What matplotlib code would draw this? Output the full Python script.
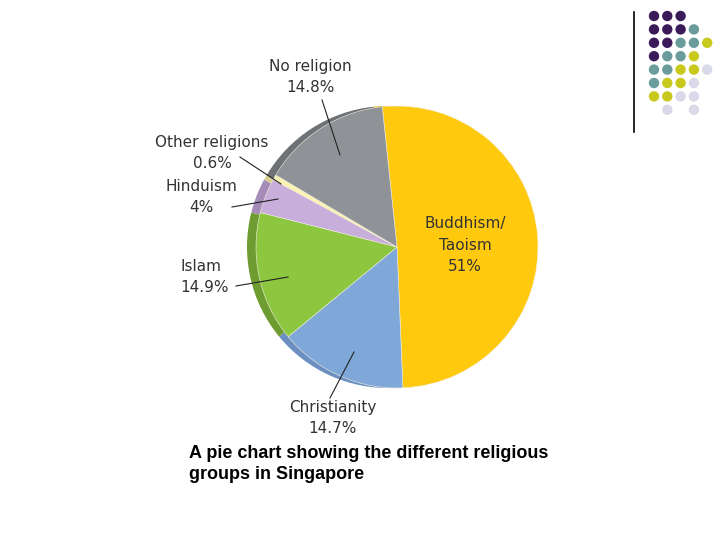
import numpy as np
import matplotlib.pyplot as plt
from matplotlib.patches import Circle

# DATA
religions = ["Buddhism/\nTaoism", "Christianity", "Islam", "Hinduism", "Other religions", "No religion"]
shares = [51, 14.7, 14.9, 4, 0.6, 14.8]
face_colors = ["#ffc90e", "#7fa8d9", "#8dc63f", "#c8aedb", "#fbf3b4", "#8f9296"]
rim_colors = ["#d9a800", "#6a8fc0", "#6f9c30", "#a58cb8", "#d8cf90", "#6e7175"]

# decorative dot grid (rows of colour codes), as on the slide
dot_rows = [
    "ppp",
    "pppt",
    "ppttY",
    "pttY",
    "ttYYl",
    "tYYl",
    "YYll",
    " l l",
]
dot_colors = {"p": "#3b1a5a", "t": "#6a9c9c", "Y": "#c9c81c", "l": "#d9d9ea"}

W, H = 728, 546
fig = plt.figure(figsize=(W / 100, H / 100), dpi=100)
ax = fig.add_axes([0, 0, 1, 1])

def py(y):
    # pixel row -> data y
    return H - y

cx, cy, r = 397, 247, 141

# rim (3d edge) behind the face
ax.pie(shares, colors=rim_colors, startangle=96, counterclock=False,
       center=(cx - 9, py(cy)), radius=r, wedgeprops=dict(linewidth=0))
ax.pie(shares, colors=face_colors, startangle=96, counterclock=False,
       center=(cx, py(cy)), radius=r, wedgeprops=dict(linewidth=0.4, edgecolor="#f4f0e0"))

# labels with leader lines
txt = dict(va="center", fontsize=11, color="#333333",
           family="DejaVu Sans", linespacing=1.55)
labels = [
    ("No religion\n14.8%", 310, 77, "center", [(322, 100), (340, 155)]),
    ("Other religions\n0.6%", 212, 153, "center", [(240, 157), (281, 184)]),
    ("Hinduism\n4%", 201, 197, "center", [(232, 207), (278, 199)]),
    ("Islam\n14.9%", 180, 277, "left", [(236, 286), (288, 277)]),
    ("Christianity\n14.7%", 333, 418, "center", [(330, 398), (354, 352)]),
]
for text, x, y, ha, line in labels:
    ax.text(x, py(y), text, ha=ha, multialignment=ha, **txt)
    ax.plot([p[0] for p in line], [py(p[1]) for p in line], color="#222222", lw=0.8)
ax.text(465, py(245), "Buddhism/\nTaoism\n51%", ha="center", **txt)

# caption
ax.text(189, py(464), "A pie chart showing the different religious\ngroups in Singapore",
        ha="left", va="center", fontsize=13, fontweight="bold",
        family="Liberation Sans", linespacing=1.25, color="black")

# dot grid + vertical rule
for i, row in enumerate(dot_rows):
    for j, c in enumerate(row):
        if c == " ":
            continue
        ax.add_patch(Circle((654 + 13.3 * j, py(16 + 13.4 * i)), 5.2, color=dot_colors[c], lw=0))
ax.plot([634, 634], [py(12), py(132)], color="black", lw=1.2)

ax.set_xlim(0, W)
ax.set_ylim(0, H)
ax.set_aspect("equal")
ax.axis("off")

fig.savefig("out.png", dpi=100)
